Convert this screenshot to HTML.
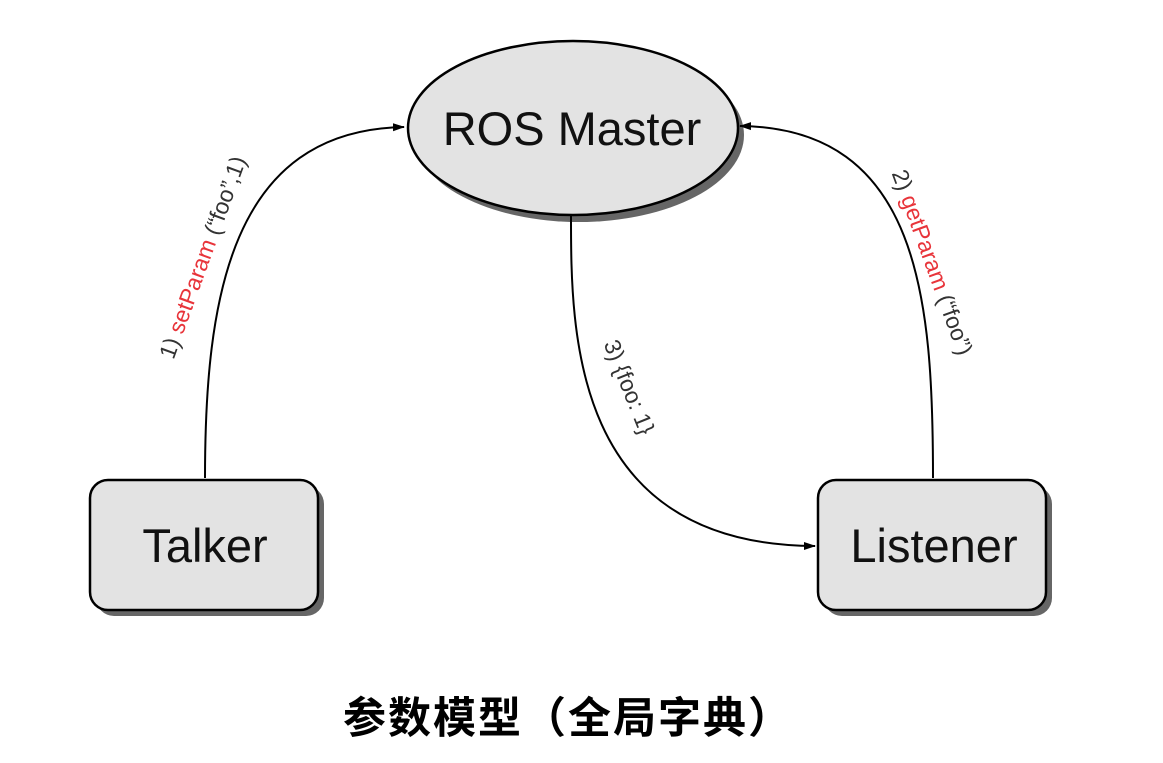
<!DOCTYPE html>
<html><head><meta charset="utf-8"><style>
html,body{margin:0;padding:0;background:#fff;width:1163px;height:763px;overflow:hidden}
</style></head><body>
<svg width="1163" height="763" viewBox="0 0 1163 763" xmlns="http://www.w3.org/2000/svg" font-family="Liberation Sans, sans-serif">
<defs>
<marker id="ah" markerWidth="12" markerHeight="10" refX="11" refY="5" orient="auto" markerUnits="userSpaceOnUse">
<path d="M0,1 L12,5 L0,9 z" fill="#000"/>
</marker>
</defs>
<ellipse cx="579" cy="135" rx="165" ry="87" fill="#666"/>
<ellipse cx="573" cy="128" rx="165" ry="87" fill="#e3e3e3" stroke="#000" stroke-width="2.5"/>
<text x="572" y="145" font-size="47" text-anchor="middle" fill="#111">ROS Master</text>
<rect x="96" y="486" width="228" height="130" rx="18" fill="#666"/>
<rect x="90" y="480" width="228" height="130" rx="18" fill="#e3e3e3" stroke="#000" stroke-width="2.5"/>
<text x="205" y="562" font-size="47" text-anchor="middle" fill="#111">Talker</text>
<rect x="824" y="486" width="228" height="130" rx="18" fill="#666"/>
<rect x="818" y="480" width="228" height="130" rx="18" fill="#e3e3e3" stroke="#000" stroke-width="2.5"/>
<text x="934" y="562" font-size="47" text-anchor="middle" fill="#111">Listener</text>
<path d="M205,478 C205,300 230,130 404,127" fill="none" stroke="#000" stroke-width="2" marker-end="url(#ah)"/>
<path d="M933,478 C933,300 920,128 740,126" fill="none" stroke="#000" stroke-width="2" marker-end="url(#ah)"/>
<path d="M571,215 C571,330 570,545 815,546" fill="none" stroke="#000" stroke-width="2" marker-end="url(#ah)"/>
<text transform="translate(210,260) rotate(-70)" font-size="23" text-anchor="middle" fill="#333"><tspan>1) </tspan><tspan fill="#e8343a">setParam</tspan><tspan> (“foo”,1)</tspan></text>
<text transform="translate(925,265) rotate(70)" font-size="23" text-anchor="middle" fill="#333"><tspan>2) </tspan><tspan fill="#e8343a">getParam</tspan><tspan> (“foo”)</tspan></text>
<text transform="translate(622,390) rotate(68)" font-size="23" text-anchor="middle" fill="#333">3) {foo: 1}</text>
<text x="568" y="733" font-size="43" font-weight="bold" text-anchor="middle" letter-spacing="2" fill="#000" font-family="Liberation Sans, Noto Sans CJK SC, sans-serif">参数模型（全局字典）</text>
</svg>
</body></html>
